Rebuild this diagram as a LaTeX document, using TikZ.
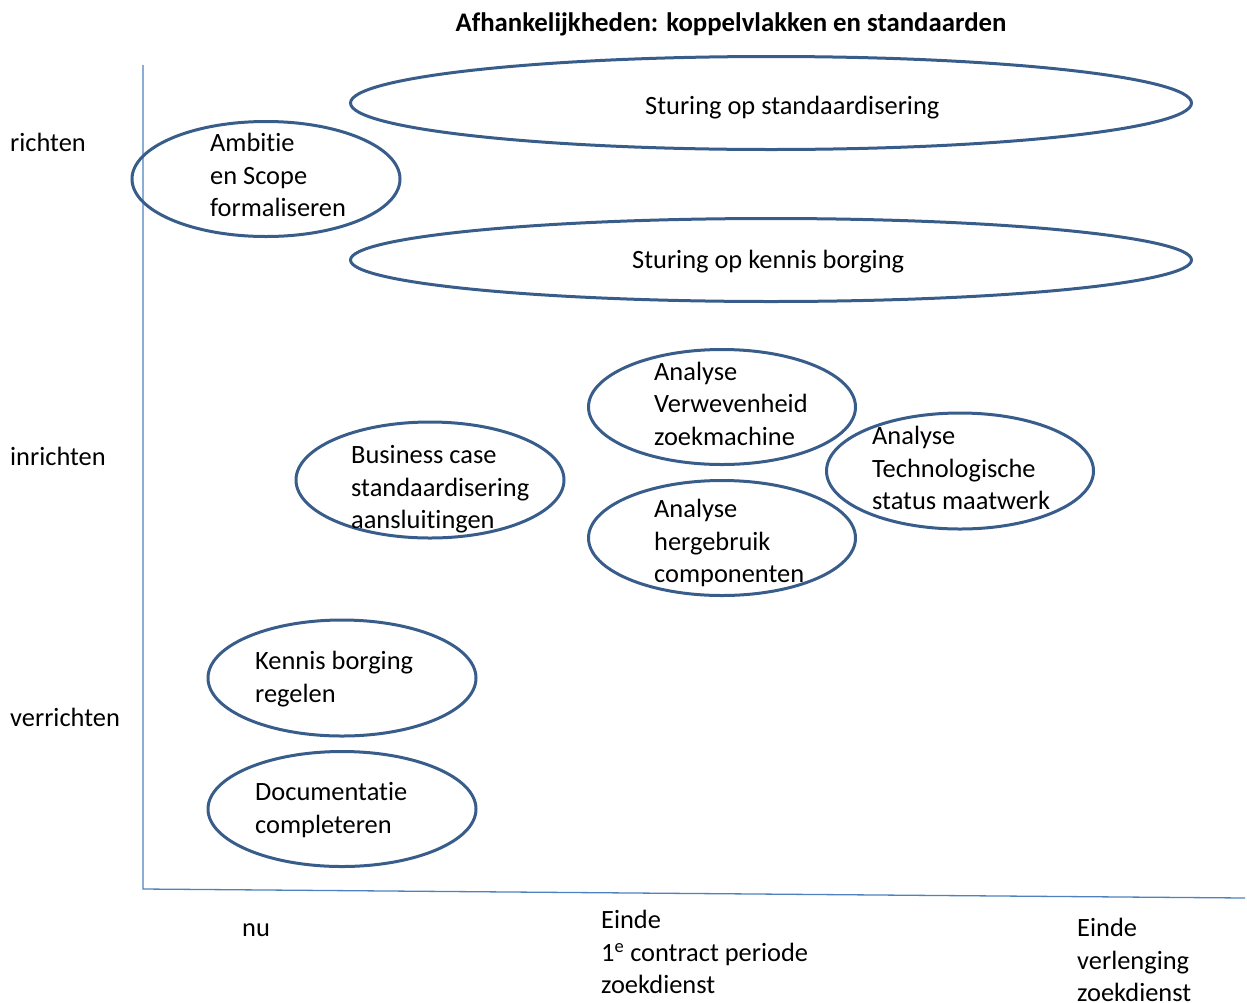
\documentclass[tikz,border=0pt]{standalone}
\usepackage{fontspec}
\setmainfont[Ligatures=NoCommon]{Carlito}
\usetikzlibrary{shapes.geometric}
\definecolor{ovalblue}{HTML}{385D8A}
\definecolor{axisblue}{HTML}{4F81BD}

\begin{document}
\begin{tikzpicture}[x=1pt,y=-1pt,
  oval/.style={ellipse, draw=ovalblue, line width=3pt, inner sep=0pt},
  txt/.style={anchor=north west, inner sep=0pt, align=left,
    font=\fontsize{26.4}{32.5}\selectfont},
  titletxt/.style={anchor=north, inner sep=0pt,
    font=\fontsize{26.8}{32.5}\selectfont\bfseries},
  axisline/.style={draw=axisblue, line width=1.3pt}]

\useasboundingbox (0,0) rectangle (1247,1002);

% title
\node[titletxt] (title) at (731,8.5) {\strut Afhankelijkheden: koppelvlakken en standaarden};

% axes
\coordinate (ytop) at (143,65);
\coordinate (origin) at (143,889);
\coordinate (xend) at (1245,898);
\draw[axisline] (ytop) -- (origin) -- (xend);

% ovals
\node[oval, minimum width=841pt, minimum height=93pt] (stdz) at (771,103) {};
\node[oval, minimum width=841pt, minimum height=83pt] (kenn) at (771,260) {};
\node[oval, minimum width=268pt, minimum height=115pt] (amb) at (266,179) {};
\node[oval, minimum width=268pt, minimum height=116pt] (bc) at (430,480) {};
\node[oval, minimum width=267pt, minimum height=115pt] (verw) at (722,407) {};
\node[oval, minimum width=267pt, minimum height=115pt] (herg) at (722,538) {};
\node[oval, minimum width=267pt, minimum height=116pt] (tech) at (960,471) {};
\node[oval, minimum width=268pt, minimum height=116pt] (kb) at (342,678) {};
\node[oval, minimum width=268pt, minimum height=115pt] (doc) at (342,809) {};

% oval texts
\node[txt] (stdz-t) at (645,91.5) {\strut Sturing op standaardisering};
\node[txt] (kenn-t) at (632,245.25) {\strut Sturing op kennis borging};
\node[txt] (amb-t) at (210,128.75) {\strut Ambitie\\\strut en Scope\\\strut formaliseren};
\node[txt] (bc-t) at (351,440.75) {\strut Business case\\\strut standaardisering\\\strut aansluitingen};
\node[txt] (verw-t) at (654,357.25) {\strut Analyse\\\strut Verwevenheid\\\strut zoekmachine};
\node[txt] (tech-t) at (872,421.75) {\strut Analyse\\\strut Technologische\\\strut status maatwerk};
\node[txt] (herg-t) at (654,494.75) {\strut Analyse\\\strut hergebruik\\\strut componenten};
\node[txt] (kb-t) at (255,646.75) {\strut Kennis borging\\\strut regelen};
\node[txt] (doc-t) at (255,777.75) {\strut Documentatie\\\strut completeren};

% vertical axis labels
\node[txt] (lv1) at (10,128.75) {\strut richten};
\node[txt] (lv2) at (10,442.75) {\strut inrichten};
\node[txt] (lv3) at (10,703.75) {\strut verrichten};

% horizontal axis labels
\node[txt] (t1) at (242,913.75) {\strut nu};
\node[txt] (t2) at (601,905.75) {\strut Einde\\\strut 1\textsuperscript{e} contract periode\\\strut zoekdienst};
\node[txt] (t3) at (1077,913.75) {\strut Einde\\\strut verlenging\\\strut zoekdienst};
\end{tikzpicture}
\end{document}
